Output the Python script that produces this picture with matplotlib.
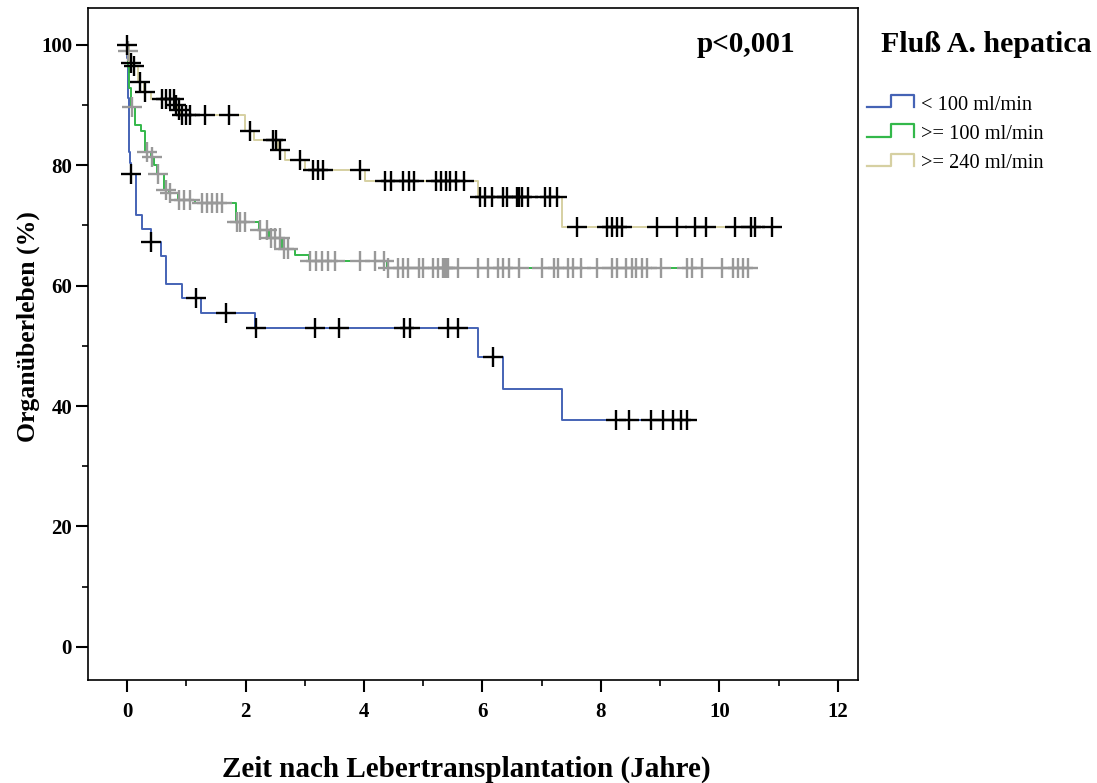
import numpy as np
import matplotlib
matplotlib.use("Agg")
import matplotlib.pyplot as plt
from matplotlib.lines import Line2D
from matplotlib.ticker import MultipleLocator

W, H = 1097, 783

# Kaplan-Meier steps: event times (years) and survival (%) after each event
blue_t = [0, 0.005, 0.01, 0.015, 0.02, 0.025, 0.03, 0.035, 0.04, 0.045, 0.06,
          0.157, 0.253, 0.40, 0.58, 0.66, 0.92, 1.25, 2.16, 5.92, 6.34, 7.35]
blue_s = [100, 97.8, 95.6, 93.3, 91.1, 88.9, 86.7, 84.4, 82.2, 80.4, 78.6,
          71.8, 69.4, 67.2, 64.9, 60.3, 57.9, 55.5, 53.0, 48.2, 42.9, 37.6]
blue_cens = [0.07, 0.41, 1.165, 1.67, 2.18, 3.17, 3.58, 4.68, 4.78, 5.42, 5.59,
             6.18, 8.26, 8.48, 8.84, 9.05, 9.22, 9.36, 9.45]

green_t = [0, 0.005, 0.02, 0.03, 0.06, 0.14, 0.24, 0.30, 0.40, 0.46, 0.50,
           0.63, 0.70, 0.86, 1.15, 1.84, 2.22, 2.40, 2.62, 2.84, 3.07, 4.38]
green_s = [100, 98.9, 96.3, 92.8, 89.6, 86.7, 85.6, 82.2, 81.4, 80.1, 78.6,
           75.9, 75.3, 74.2, 73.7, 70.5, 69.3, 67.9, 66.1, 65.0, 64.1, 63.0]
green_cens = [0.01, 0.08, 0.34, 0.42, 0.53, 0.65, 0.73, 0.88, 0.96, 1.07,
              1.27, 1.35, 1.43, 1.52, 1.60, 1.85, 1.91, 1.99, 2.25, 2.36,
              2.43, 2.50, 2.58, 2.65, 2.72, 3.09, 3.19, 3.29, 3.39, 3.51,
              3.93, 4.19, 4.34, 4.41, 4.58, 4.66, 4.75, 4.92, 5.00, 5.17,
              5.25, 5.34, 5.37, 5.40, 5.42, 5.59, 5.93, 6.10, 6.27, 6.35,
              6.44, 6.61, 7.00, 7.20, 7.28, 7.45, 7.53, 7.67, 7.93, 8.18,
              8.27, 8.43, 8.52, 8.60, 8.69, 8.77, 9.02, 9.45, 9.53, 9.70,
              10.04, 10.23, 10.32, 10.40, 10.49]

yellow_t = [0, 0.03, 0.09, 0.18, 0.28, 0.40, 0.80, 0.86, 0.90, 1.99, 2.15,
            2.55, 2.66, 3.00, 4.01, 5.93, 7.35]
yellow_s = [100, 96.9, 96.4, 93.8, 92.1, 91.0, 90.0, 89.2, 88.4, 85.6, 84.1,
            82.5, 80.9, 79.2, 77.4, 74.7, 69.7]
yellow_cens = [0.0, 0.06, 0.11, 0.22, 0.31, 0.59, 0.65, 0.72, 0.79, 0.82,
               0.88, 0.93, 1.00, 1.06, 1.32, 1.72, 2.08, 2.47, 2.52, 2.58,
               2.92, 3.14, 3.22, 3.30, 3.93, 4.35, 4.45, 4.66, 4.76, 4.85,
               5.22, 5.30, 5.38, 5.46, 5.56, 5.68, 5.95, 6.04, 6.16, 6.35,
               6.41, 6.58, 6.62, 6.66, 6.77, 7.05, 7.14, 7.25, 7.59, 8.10,
               8.18, 8.27, 8.35, 8.94, 9.28, 9.59, 9.78, 10.26, 10.54, 10.60,
               10.88]

labels = ["< 100 ml/min", ">= 100 ml/min", ">= 240 ml/min"]
colors = ["#4563b5", "#33b84a", "#d6d0a2"]
cens_colors = ["black", "#999999", "black"]

plt.rcParams['font.family'] = ['Liberation Serif', 'DejaVu Serif']

fig = plt.figure(figsize=(W / 100, H / 100), dpi=100)
ax = fig.add_axes([88 / W, 1 - 680 / H, (858 - 88) / W, (680 - 8) / H])

groups = [(blue_t, blue_s, blue_cens), (green_t, green_s, green_cens),
          (yellow_t, yellow_s, yellow_cens)]

# curves first, censor crosses on top
for (t, s, c), col in zip(groups, colors):
    t_end = max(max(c), t[-1])
    ax.step(list(t) + [t_end], list(s) + [s[-1]], where='post',
            color=col, lw=1.4, zorder=2)

for (t, s, c), ccol in zip(groups, cens_colors):
    idx = np.searchsorted(t, c, side='right') - 1
    cy = np.asarray(s)[idx]
    ax.plot(c, cy, ls='none', marker='+', ms=14, mew=1.7, color=ccol,
            zorder=3)

ax.set_xlim(-0.66, 12.34)
ax.set_ylim(-5.5, 106.1)
ax.xaxis.set_major_locator(MultipleLocator(2))
ax.xaxis.set_minor_locator(MultipleLocator(1))
ax.yaxis.set_major_locator(MultipleLocator(20))
ax.yaxis.set_minor_locator(MultipleLocator(10))
ax.tick_params(which='major', direction='out', length=8.5, width=1.5,
               labelsize=15, pad=7)
ax.tick_params(which='minor', direction='out', length=4.5, width=1.2)
ax.tick_params(axis='y', which='major', pad=3)
for lab in ax.get_xticklabels() + ax.get_yticklabels():
    lab.set_fontweight('bold')
for sp in ax.spines.values():
    sp.set_linewidth(1.2)

# axis titles
fig.text(466 / W, 1 - 769 / H, "Zeit nach Lebertransplantation (Jahre)",
         fontsize=21, fontweight='bold', ha='center', va='center')
fig.text(28 / W, 1 - 327 / H, "Organüberleben (%)", fontsize=18.5,
         fontweight='bold', ha='center', va='center', rotation=90)

fig.text(746 / W, 1 - 44 / H, "p<0,001", fontsize=21, fontweight='bold',
         ha='center', va='center')

# legend with step-shaped keys
fig.text(986 / W, 1 - 45 / H, "Fluß A. hepatica", fontsize=21.5,
         fontweight='bold', ha='center', va='center')
for i, (lab, col) in enumerate(zip(labels, colors)):
    low = 107 + 29.5 * i
    high = low - 12.5
    xs = np.array([867, 891, 891, 914, 914]) / W
    ys = 1 - np.array([low, low, high, high, low]) / H
    fig.add_artist(Line2D(xs, ys, color=col, lw=1.6,
                          transform=fig.transFigure))
    fig.text(921 / W, 1 - (low - 2) / H, lab, fontsize=14.7,
             ha='left', va='center')

fig.savefig("out.png", dpi=100)
